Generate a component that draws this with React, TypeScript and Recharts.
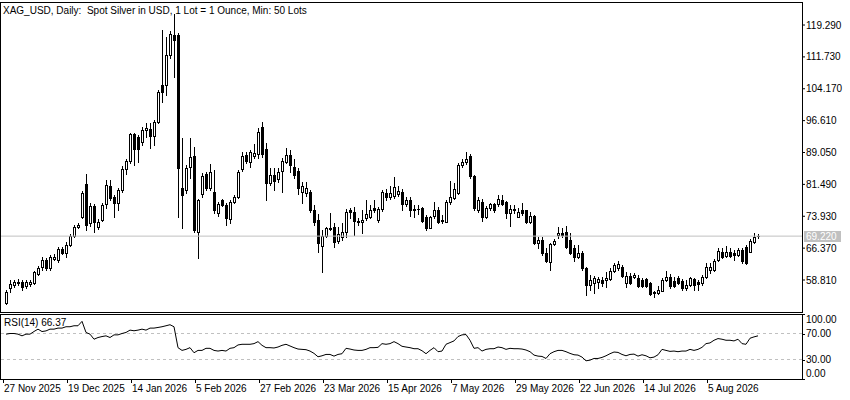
import React from "react";
import { ComposedChart, Bar, Line, XAxis, YAxis, ReferenceLine } from "recharts";

const opens = [
  53.3, 56.9, 57.6, 58.1, 58.4, 57.3, 57.9, 58.0, 60.2, 61.8,
  63.5, 61.6, 63.8, 63.5, 66.1, 65.1, 67.1, 69.3, 71.3, 73.7,
  81.6, 72.3, 76.3, 71.3, 73.0, 76.8, 81.1, 78.6, 77.0, 80.2,
  85.1, 87.0, 93.4, 92.8, 91.5, 94.5, 94.6, 93.0, 96.4, 105.1,
  105.1, 112.2, 116.9, 116.9, 80.7, 80.2, 85.5, 88.2, 70.3, 79.1,
  83.9, 80.7, 79.8, 74.6, 77.8, 76.6, 73.3, 77.3, 78.6, 85.1,
  88.5, 86.7, 88.3, 88.6, 95.2, 89.8, 81.9, 83.7, 82.7, 84.7,
  86.9, 88.5, 85.7, 84.7, 79.8, 79.4, 79.8, 75.4, 73.0, 66.9,
  69.3, 71.0, 71.3, 68.1, 69.1, 70.1, 75.3, 74.9, 72.8, 72.6,
  73.4, 73.8, 75.8, 73.0, 75.6, 79.5, 78.4, 78.7, 79.1, 79.8,
  76.8, 77.8, 75.7, 75.6, 75.8, 73.7, 71.2, 74.0, 75.4, 73.1,
  72.6, 77.2, 78.2, 79.4, 86.1, 86.7, 88.2, 83.5, 75.3, 77.4,
  73.8, 75.8, 76.8, 76.8, 77.8, 77.2, 74.6, 75.5, 73.8, 75.3,
  75.3, 72.6, 74.0, 67.6, 68.3, 65.3, 63.0, 67.3, 69.4, 70.0,
  70.1, 68.3, 66.3, 64.2, 65.3, 61.6, 57.6, 58.2, 58.4, 58.8,
  58.8, 59.1, 60.9, 61.6, 62.0, 58.2, 59.8, 59.6, 59.2, 58.8,
  59.0, 58.0, 55.9, 55.7, 56.3, 58.8, 59.6, 58.6, 59.4, 58.6,
  56.9, 57.7, 59.0, 58.4, 58.0, 59.5, 61.2, 61.2, 63.5, 65.5,
  64.5, 65.5, 65.3, 64.8, 65.9, 66.7, 65.5, 67.9, 69.3,
];

const highs = [
  56.4, 58.8, 58.8, 59.0, 58.8, 58.8, 58.8, 60.9, 62.1, 64.3,
  64.0, 64.7, 65.0, 66.6, 66.6, 67.9, 69.7, 71.9, 72.3, 79.9,
  83.95, 77.1, 76.8, 73.3, 77.1, 82.5, 82.5, 79.0, 80.6, 85.9,
  87.5, 93.7, 93.7, 93.2, 95.2, 96.0, 96.0, 96.8, 103.9, 118.1,
  116.5, 117.9, 121.8, 117.3, 92.4, 86.1, 92.4, 90.4, 78.0, 84.1,
  84.5, 86.3, 84.9, 77.4, 78.0, 77.1, 77.8, 79.0, 84.9, 89.2,
  89.2, 89.6, 91.0, 94.8, 96.4, 91.2, 85.4, 85.4, 85.4, 87.7,
  90.1, 89.6, 87.4, 85.4, 82.1, 82.1, 80.2, 76.6, 74.4, 70.7,
  71.5, 74.6, 72.3, 71.5, 72.3, 75.7, 75.8, 76.2, 73.4, 75.4,
  77.8, 76.6, 77.8, 76.1, 80.2, 80.3, 81.0, 83.2, 81.0, 80.3,
  78.6, 78.4, 76.6, 76.6, 76.2, 74.2, 74.1, 77.4, 76.2, 74.2,
  77.8, 82.3, 81.7, 86.6, 87.5, 89.2, 88.7, 83.7, 78.4, 78.0,
  76.4, 77.1, 77.1, 79.0, 79.0, 77.6, 76.6, 76.6, 75.8, 77.0,
  75.4, 75.0, 74.2, 69.1, 69.1, 66.3, 67.6, 68.5, 71.5, 71.1,
  71.6, 69.9, 67.1, 67.1, 65.7, 61.9, 60.0, 59.8, 59.5, 59.6,
  60.8, 61.6, 62.8, 63.3, 62.4, 60.8, 60.5, 60.5, 60.0, 59.3,
  59.3, 58.4, 56.3, 57.4, 59.3, 61.0, 60.2, 59.6, 59.8, 59.1,
  58.8, 59.5, 59.3, 58.8, 60.0, 62.8, 62.9, 63.7, 66.3, 66.3,
  66.9, 66.3, 65.9, 66.3, 66.3, 67.1, 68.5, 69.9, 69.7,
];

const lows = [
  53.1, 56.0, 57.2, 57.6, 56.4, 56.9, 57.4, 57.9, 60.0, 61.3,
  61.2, 61.2, 63.5, 63.1, 65.0, 64.3, 66.9, 69.0, 71.1, 73.5,
  70.7, 71.6, 70.3, 70.9, 72.8, 75.9, 77.8, 73.8, 75.4, 79.7,
  84.0, 86.6, 86.1, 86.9, 90.8, 92.7, 90.2, 90.8, 96.1, 101.1,
  102.7, 111.5, 107.0, 73.8, 71.2, 79.5, 82.9, 70.3, 63.95, 78.6,
  80.2, 80.2, 74.6, 74.1, 76.4, 71.9, 72.3, 77.1, 78.3, 84.7,
  86.6, 85.5, 87.7, 87.8, 88.0, 77.9, 81.3, 80.2, 82.1, 79.8,
  86.6, 84.5, 83.0, 79.2, 77.0, 78.8, 74.9, 71.9, 65.5, 60.8,
  69.0, 70.7, 66.7, 67.5, 68.3, 69.1, 73.4, 69.5, 71.9, 69.9,
  73.0, 73.5, 74.9, 72.5, 75.2, 77.9, 78.0, 78.2, 78.7, 75.3,
  76.4, 74.0, 73.8, 74.5, 72.6, 70.7, 71.1, 73.5, 72.3, 72.4,
  72.5, 76.8, 78.0, 79.2, 85.6, 86.3, 83.0, 75.4, 74.9, 72.8,
  73.4, 75.4, 74.9, 76.4, 76.6, 73.4, 71.6, 74.6, 73.8, 74.2,
  72.3, 72.3, 67.3, 66.3, 64.7, 63.1, 61.2, 67.1, 68.8, 69.1,
  66.4, 65.0, 63.2, 64.0, 61.2, 55.3, 56.4, 55.7, 56.9, 57.4,
  57.2, 58.8, 60.7, 61.2, 59.5, 57.1, 57.9, 59.3, 57.1, 57.2,
  57.1, 55.3, 54.7, 55.5, 56.1, 58.6, 56.9, 57.2, 57.9, 56.4,
  56.4, 57.3, 56.4, 56.4, 57.6, 59.3, 60.4, 61.0, 63.3, 64.0,
  64.2, 64.2, 63.5, 64.5, 62.9, 62.6, 65.4, 67.6, 68.8,
];

const closes = [
  56.0, 57.9, 58.3, 58.3, 57.1, 58.4, 58.3, 60.6, 61.7, 63.5,
  61.6, 64.2, 64.3, 66.1, 65.3, 67.1, 69.3, 71.5, 71.9, 79.4,
  71.9, 76.3, 72.6, 72.6, 76.6, 81.3, 78.2, 77.0, 80.2, 85.1,
  87.0, 93.4, 90.0, 89.9, 94.4, 94.8, 93.0, 96.4, 103.5, 103.3,
  112.2, 117.1, 115.7, 85.3, 79.0, 85.3, 88.1, 70.7, 77.8, 83.5,
  80.7, 84.4, 75.4, 76.8, 76.6, 73.4, 77.3, 78.6, 84.5, 88.2,
  87.0, 89.1, 89.0, 93.9, 88.6, 81.9, 83.7, 82.3, 84.5, 87.0,
  88.5, 86.1, 83.7, 80.6, 81.0, 80.7, 75.4, 72.6, 67.5, 69.3,
  71.1, 71.1, 67.9, 69.7, 70.1, 75.0, 74.9, 72.8, 72.5, 73.0,
  74.4, 75.4, 75.4, 75.6, 79.6, 78.6, 79.4, 80.9, 79.9, 76.8,
  77.8, 75.3, 75.5, 75.7, 72.9, 71.1, 73.8, 75.4, 72.6, 72.9,
  77.4, 78.4, 80.3, 86.1, 86.7, 87.5, 83.5, 75.8, 77.8, 73.7,
  75.8, 76.8, 75.4, 78.0, 76.8, 74.6, 75.6, 75.6, 75.0, 74.8,
  72.6, 74.0, 67.6, 68.3, 65.3, 63.2, 67.3, 68.1, 70.0, 69.6,
  66.7, 65.3, 64.3, 65.3, 61.6, 57.6, 58.8, 59.2, 59.0, 58.2,
  59.2, 61.0, 62.4, 62.6, 59.8, 59.8, 58.2, 60.0, 57.4, 57.4,
  57.3, 55.5, 55.8, 56.4, 58.8, 59.6, 57.4, 57.4, 58.2, 56.9,
  57.7, 59.2, 57.7, 57.9, 59.5, 62.0, 62.0, 63.4, 65.8, 64.3,
  65.5, 64.5, 64.7, 65.9, 63.2, 62.9, 68.1, 68.9, 69.22,
];

const rsiValues = [
  69.0, 70.0, 70.0, 69.0, 66.4, 69.0, 69.0, 73.1, 76.7, 73.0,
  74.0, 76.7, 76.7, 78.3, 78.3, 80.4, 80.4, 81.9, 81.9, 88.7,
  71.6, 69.0, 61.2, 63.8, 65.3, 66.4, 63.8, 67.9, 67.9, 70.0,
  71.6, 75.2, 74.2, 75.2, 76.7, 75.2, 78.3, 78.3, 79.3, 80.4,
  81.9, 83.5, 80.4, 48.2, 44.0, 45.6, 48.2, 40.4, 44.0, 44.0,
  47.2, 47.2, 44.0, 43.0, 44.0, 43.0, 47.2, 48.2, 52.4, 53.4,
  53.4, 53.4, 54.4, 57.5, 51.8, 48.2, 48.2, 47.7, 49.2, 51.8,
  53.4, 50.8, 48.2, 46.1, 45.6, 45.1, 43.0, 39.4, 34.2, 35.7,
  37.8, 37.8, 35.2, 37.8, 38.9, 47.2, 46.1, 44.6, 44.0, 44.0,
  45.6, 48.2, 48.2, 48.7, 54.4, 53.4, 54.4, 57.5, 54.4, 50.3,
  49.2, 48.2, 46.6, 46.6, 43.5, 38.9, 44.0, 48.2, 42.0, 43.0,
  53.4, 56.0, 58.6, 65.3, 67.9, 68.4, 59.6, 47.2, 48.2, 43.0,
  45.6, 46.6, 46.6, 49.2, 48.2, 45.6, 47.2, 46.6, 46.6, 46.1,
  44.6, 42.0, 36.8, 35.2, 34.7, 31.6, 38.9, 42.0, 44.0, 44.0,
  42.0, 39.4, 37.3, 36.8, 33.7, 28.0, 29.0, 31.6, 31.6, 33.2,
  35.7, 38.9, 41.5, 40.9, 37.8, 35.7, 37.8, 38.3, 35.2, 37.3,
  35.7, 32.6, 33.7, 37.3, 45.6, 44.0, 42.5, 43.0, 42.0, 43.0,
  43.0, 45.6, 44.0, 45.6, 48.7, 54.4, 55.5, 59.6, 62.2, 61.2,
  59.6, 59.6, 58.6, 61.2, 54.4, 53.4, 62.7, 64.8, 66.37,
];

const dateBars = [0, 16, 32, 48, 64, 80, 96, 112, 128, 144, 160, 176];
const dateLabels = [
  "27 Nov 2025", "19 Dec 2025", "14 Jan 2026", "5 Feb 2026", "27 Feb 2026", "23 Mar 2026",
  "15 Apr 2026", "7 May 2026", "29 May 2026", "22 Jun 2026", "14 Jul 2026", "5 Aug 2026",
];
const priceTicks = [58.81, 66.37, 73.93, 81.49, 89.05, 96.61, 104.17, 111.73, 119.29];
const rsiTicks = [0, 30, 70, 100];
const rsiLevels = [30, 70];

const FONT = '"Liberation Sans", Arial, sans-serif';
const X_DOMAIN: [number, number] = [-1.25, 199];
const lastClose = closes[closes.length - 1];

const data = closes.map((close, i) => ({
  i,
  open: opens[i],
  high: highs[i],
  low: lows[i],
  close,
  rsi: rsiValues[i],
}));

function Candle(props: any) {
  const { x, y, width, height, payload } = props;
  if (x == null || y == null || !payload) return null;
  const { open, high, low, close } = payload;
  const top = Math.min(y, y + height);
  const h = Math.abs(height);
  const k = high > low ? h / (high - low) : 0;
  const py = (v: number) => top + (high - v) * k;
  const c = Math.round(x + width / 2);
  const bTop = Math.round(py(Math.max(open, close)));
  const bBot = Math.round(py(Math.min(open, close)));
  const up = close >= open;
  return (
    <g shapeRendering="crispEdges">
      <line x1={c + 0.5} x2={c + 0.5} y1={Math.round(top)} y2={Math.round(top + h) + 1} stroke="#000" />
      {bBot - bTop < 1 ? (
        <line x1={c - 1} x2={c + 2} y1={bTop + 0.5} y2={bTop + 0.5} stroke="#000" />
      ) : (
        <rect x={c - 0.5} y={bTop + 0.5} width={2} height={bBot - bTop} fill={up ? "#fff" : "#000"} stroke="#000" />
      )}
    </g>
  );
}

function PriceTag(props: any) {
  const vb = props.viewBox;
  if (!vb) return null;
  const right = vb.x + vb.width;
  const yy = Math.round(vb.y);
  return (
    <g>
      <rect x={right + 2} y={yy - 5} width={37} height={11} fill="#C0C0C0" />
      <text x={right + 4} y={yy + 4} fill="#fff" fontSize={10} fontFamily={FONT}>
        {lastClose.toFixed(3)}
      </text>
    </g>
  );
}

function DateTick(props: any) {
  const { x, y, payload } = props;
  const idx = dateBars.indexOf(payload.value);
  const tx = Math.round(x) - 3;
  return (
    <g>
      <line x1={tx + 0.5} x2={tx + 0.5} y1={y} y2={y + 4} stroke="#000" shapeRendering="crispEdges" />
      <text x={tx + 1} y={y + 13} fontSize={10} fontFamily={FONT} fill="#000">
        {dateLabels[idx]}
      </text>
    </g>
  );
}

function RsiTick(props: any) {
  const { x, y, payload } = props;
  const v = payload.value;
  const dy = v === 100 ? 5 : v === 0 ? -6 : 0;
  return (
    <g>
      <line x1={x} x2={x + 3} y1={Math.round(y) + 0.5} y2={Math.round(y) + 0.5} stroke="#000" shapeRendering="crispEdges" />
      <text x={x + 4} y={y + dy + 3.5} fontSize={10} fontFamily={FONT} fill="#000">
        {v.toFixed(2)}
      </text>
    </g>
  );
}

const frame: React.CSSProperties = {
  position: "absolute",
  left: 0,
  width: 803,
  border: "1px solid #000",
  boxSizing: "border-box",
  pointerEvents: "none",
};

export default function App() {
  return (
    <div style={{ position: "relative", width: 850, height: 400, background: "#fff", overflow: "hidden", fontFamily: FONT }}>
      <style>{"body{margin:0}"}</style>
      <div style={{ position: "absolute", left: 0, top: 0 }}>
        <ComposedChart width={850} height={316} data={data} margin={{ top: 2, right: 0, bottom: 4, left: 1 }}>
          <XAxis dataKey="i" type="number" domain={X_DOMAIN} allowDataOverflow hide />
          <YAxis
            orientation="right"
            type="number"
            domain={[51.22, 124.75]}
            allowDataOverflow
            ticks={priceTicks}
            interval={0}
            width={48}
            axisLine={false}
            tickLine={{ stroke: "#000" }}
            tickSize={3}
            tickMargin={1}
            tickFormatter={(v: number) => v.toFixed(3)}
            tick={{ fontSize: 10, fill: "#000", fontFamily: FONT }}
          />
          <ReferenceLine y={lastClose} stroke="#C0C0C0" label={(p: any) => <PriceTag viewBox={p.viewBox} />} />
          <Bar
            dataKey={(d: any) => [d.low, d.high]}
            barSize={3}
            isAnimationActive={false}
            shape={(p: any) => <Candle {...p} />}
          />
        </ComposedChart>
      </div>
      <div style={{ position: "absolute", left: 0, top: 314 }}>
        <ComposedChart width={850} height={86} data={data} margin={{ top: 0, right: 0, bottom: 0, left: 1 }}>
          <XAxis
            dataKey="i"
            type="number"
            domain={X_DOMAIN}
            allowDataOverflow
            ticks={dateBars}
            interval={0}
            height={21}
            axisLine={false}
            tickLine={false}
            tickSize={0}
            tickMargin={0}
            tick={(p: any) => <DateTick {...p} />}
          />
          <YAxis
            orientation="right"
            type="number"
            domain={[0, 100]}
            allowDataOverflow
            ticks={rsiTicks}
            interval={0}
            width={48}
            axisLine={false}
            tickLine={false}
            tickSize={0}
            tickMargin={0}
            tick={(p: any) => <RsiTick {...p} />}
          />
          {rsiLevels.map((l) => (
            <ReferenceLine key={l} y={l} stroke="#C0C0C0" strokeDasharray="3 3" />
          ))}
          <Line dataKey="rsi" type="linear" stroke="#000" strokeWidth={1} dot={false} activeDot={false} isAnimationActive={false} />
        </ComposedChart>
      </div>
      <div style={{ ...frame, top: 2, height: 311 }} />
      <div style={{ ...frame, top: 314, height: 66 }} />
      <div style={{ position: "absolute", left: 3, top: 4, fontSize: 10, lineHeight: "13px", whiteSpace: "pre", color: "#000" }}>
        {"XAG_USD, Daily:  Spot Silver in USD, 1 Lot = 1 Ounce, Min: 50 Lots"}
      </div>
      <div style={{ position: "absolute", left: 4, top: 317, fontSize: 10, lineHeight: "12px", whiteSpace: "pre", color: "#000" }}>
        {`RSI(14) ${rsiValues[rsiValues.length - 1].toFixed(2)}`}
      </div>
    </div>
  );
}
